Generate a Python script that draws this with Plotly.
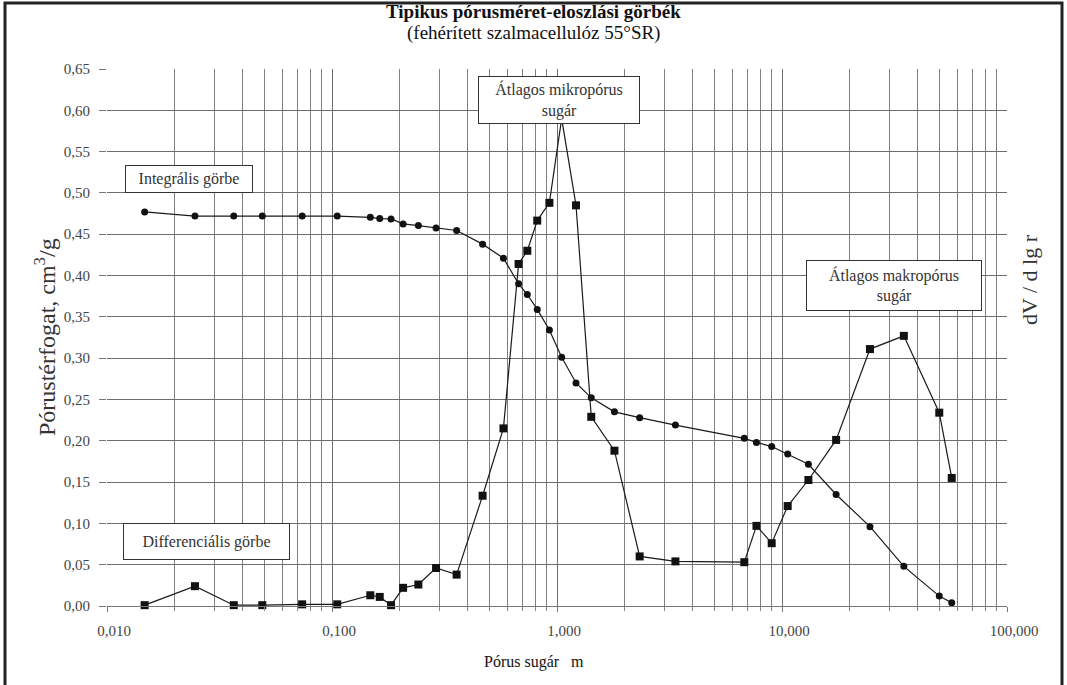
import plotly.graph_objects as go

# ---- data ----
radius_um = [0.0147, 0.0246, 0.0366, 0.049, 0.0737, 0.1055, 0.148, 0.163, 0.183,
             0.207, 0.242, 0.29, 0.358, 0.467, 0.578, 0.675, 0.738, 0.817, 0.925,
             1.049, 1.215, 1.42, 1.80, 2.33, 3.36, 6.8, 7.7, 9.0, 10.6, 13.1,
             17.4, 24.6, 34.8, 50.0, 56.8]
integral = [0.477, 0.472, 0.472, 0.472, 0.472, 0.472, 0.4705, 0.469, 0.4685,
            0.4625, 0.4605, 0.4575, 0.4545, 0.438, 0.421, 0.390, 0.377, 0.359,
            0.334, 0.301, 0.270, 0.252, 0.235, 0.228, 0.219, 0.203, 0.198, 0.193,
            0.184, 0.1715, 0.135, 0.096, 0.048, 0.012, 0.004]
differential = [0.001, 0.024, 0.001, 0.001, 0.002, 0.002, 0.013, 0.011, 0.001,
                0.022, 0.026, 0.046, 0.038, 0.1335, 0.215, 0.414, 0.430, 0.4665,
                0.488, 0.59, 0.485, 0.229, 0.188, 0.060, 0.054, 0.053, 0.097,
                0.076, 0.121, 0.1525, 0.201, 0.311, 0.327, 0.234, 0.155]

x_tickvals = [0.01, 0.1, 1, 10, 100]
x_ticktext = ["0,010", "0,100", "1,000", "10,000", "100,000"]
y_tickvals = [0.00, 0.05, 0.10, 0.15, 0.20, 0.25, 0.30, 0.35, 0.40, 0.45, 0.50, 0.55, 0.60, 0.65]
y_ticktext = ["0,00", "0,05", "0,10", "0,15", "0,20", "0,25", "0,30", "0,35", "0,40",
              "0,45", "0,50", "0,55", "0,60", "0,65"]

title_text = "<b>Tipikus pórusméret-eloszlási görbék</b>"
subtitle_text = "(fehérített szalmacellulóz 55°SR)"
y_title = "Pórustérfogat, cm<sup>3</sup>/g"
x_title = "Pórus sugár\u00a0\u00a0\u00a0m"
y2_title = "dV / d lg r"
label_integral = "Integrális görbe"
label_diff = "Differenciális görbe"
label_micro = "Átlagos mikropórus<br>sugár"
label_macro = "Átlagos makropórus<br>sugár"

# ---- layout geometry (pixels) ----
W, H = 1067, 685
L, R, T, B = 107, 60, 69, 79
PW, PH = W - L - R, H - T - B

def px(xp):
    return (xp - L) / PW

def py(yp):
    return (H - B - yp) / PH

SERIF = "Liberation Serif, Times New Roman, serif"

minor_vals = [m * 10 ** e for e in range(-2, 2) for m in range(2, 10)]

fig = go.Figure()
fig.add_trace(go.Scatter(
    x=radius_um, y=integral, mode="lines+markers",
    line=dict(color="#1a1a1a", width=1.2),
    marker=dict(symbol="circle", size=7, color="#111"),
    cliponaxis=False, showlegend=False, name="Integrális görbe"))
fig.add_trace(go.Scatter(
    x=radius_um, y=differential, mode="lines+markers",
    line=dict(color="#1a1a1a", width=1.2),
    marker=dict(symbol="square", size=8, color="#111"),
    cliponaxis=False, showlegend=False, name="Differenciális görbe"))

fig.update_layout(
    width=W, height=H,
    margin=dict(l=L, r=R, t=T, b=B),
    paper_bgcolor="white", plot_bgcolor="white",
    font=dict(family=SERIF, color="#222"),
    xaxis=dict(
        type="log", range=[-2, 2],
        tickvals=x_tickvals, ticktext=x_ticktext,
        ticks="outside", ticklen=5, tickcolor="#777",
        tickfont=dict(size=15, color="#444", family=SERIF),
        ticklabelshift=7, ticklabelstandoff=6,
        showgrid=True, gridcolor="#6e6e6e", gridwidth=1,
        minor=dict(tickvals=minor_vals, showgrid=True, gridcolor="#808080",
                   gridwidth=1, ticks="outside", ticklen=4, tickcolor="#888"),
        showline=True, linecolor="#777", linewidth=1,
        zeroline=False,
    ),
    yaxis=dict(
        range=[0, 0.65],
        tickvals=y_tickvals, ticktext=y_ticktext,
        ticks="outside", ticklen=7, tickcolor="#777",
        tickfont=dict(size=15, color="#444", family=SERIF),
        ticklabelstandoff=6,
        showgrid=True, gridcolor="#6e6e6e", gridwidth=1,
        showline=False, zeroline=False,
    ),
)

annotations = [
    dict(text=title_text, x=px(533.5), y=py(12), xref="paper", yref="paper", xanchor="center",
         yanchor="middle", showarrow=False, font=dict(size=19, color="#111", family=SERIF)),
    dict(text=subtitle_text, x=px(533.5), y=py(33), xref="paper", yref="paper", xanchor="center",
         yanchor="middle", showarrow=False, font=dict(size=19, color="#111", family=SERIF)),
    dict(text=y_title, x=px(45), y=py(337), xref="paper", yref="paper", textangle=-90,
         xanchor="center", yanchor="middle", showarrow=False,
         font=dict(size=24, color="#333", family=SERIF)),
    dict(text=y2_title, x=px(1029), y=py(280), xref="paper", yref="paper", textangle=-90,
         xanchor="center", yanchor="middle", showarrow=False,
         font=dict(size=22, color="#333", family=SERIF)),
    dict(text=x_title, x=px(533.5), y=py(662), xref="paper", yref="paper",
         xanchor="center", yanchor="middle", showarrow=False,
         font=dict(size=16, color="#111", family=SERIF)),
]

def box(text, x0, x1, y0, y1, size=16):
    return dict(text=text, x=px((x0 + x1) / 2), y=py((y0 + y1) / 2),
                xref="paper", yref="paper", xanchor="center", yanchor="middle",
                showarrow=False, width=x1 - x0 - 6, height=y1 - y0 - 6,
                bgcolor="white", bordercolor="#333", borderwidth=1, borderpad=2,
                font=dict(size=size, color="#333", family=SERIF), align="center")

annotations += [
    box(label_integral, 125, 253, 165, 193),
    box(label_diff, 123, 290, 523, 560),
    box(label_micro, 478, 640, 76, 124),
    box(label_macro, 806, 982, 260, 311),
]
fig.update_layout(annotations=annotations)

# outer frame
fig.add_shape(type="rect", xref="paper", yref="paper",
              x0=px(5), x1=px(1062), y0=py(700), y1=py(3),
              line=dict(color="#222", width=3), fillcolor="rgba(0,0,0,0)", layer="above")

fig.write_html("out.html", config={"displayModeBar": False},
               post_script="document.body.style.margin='0';document.body.style.overflow='hidden';")
